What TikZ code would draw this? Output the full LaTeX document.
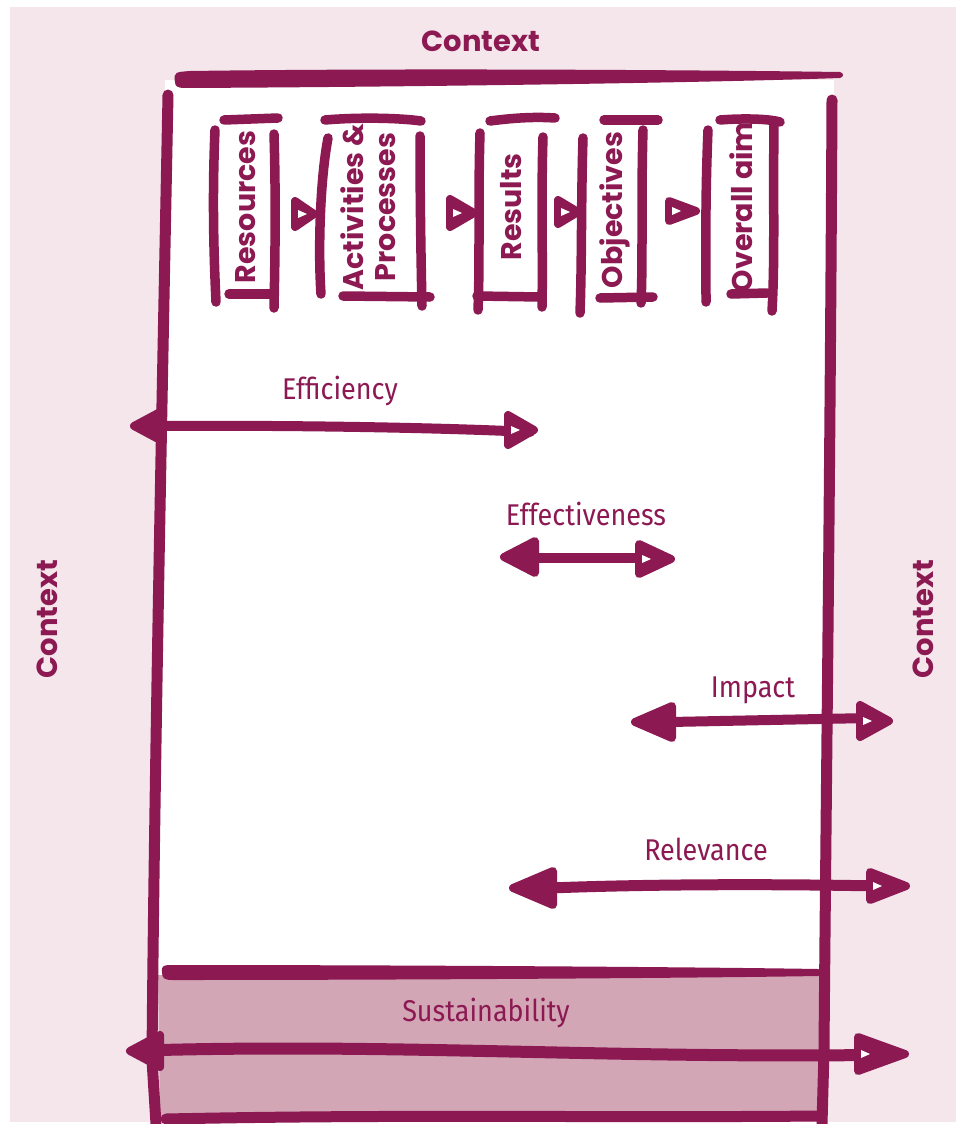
\documentclass[tikz,border=0pt]{standalone}
\usepackage{fontspec}
\newfontfamily\ctxfont{Poppins}
\newfontfamily\lblfont{Fira Sans}[FakeStretch=0.9]
\definecolor{plum}{HTML}{8C1952}
\definecolor{bgpink}{HTML}{F4E6EB}
\definecolor{sustfill}{HTML}{D3A6B6}
\newcommand{\headR}[4]{% base x, y, tip x, half height
  \filldraw[draw=plum,fill=plum,line width=8pt,line join=round] (#1,#2-#4) -- (#3,#2) -- (#1,#2+#4) -- cycle;
  \fill[white] (#1+3,#2-4) -- (#1+12,#2) -- (#1+3,#2+4) -- cycle;}
\newcommand{\headL}[4]{% base x, y, tip x, half height
  \filldraw[draw=plum,fill=plum,line width=8pt,line join=round] (#1,#2-#4) -- (#3,#2) -- (#1,#2+#4) -- cycle;}
\begin{document}
\begin{tikzpicture}[x=1pt,y=-1pt,
  frame/.style={draw=plum,line width=11pt,line cap=round,line join=round},
  bstroke/.style={draw=plum,line width=9.5pt,line cap=round},
  ctx/.style={text=plum,font=\ctxfont\bfseries\fontsize{29}{30}\selectfont,inner sep=0pt},
  boxlbl/.style={text=plum,font=\ctxfont\bfseries\fontsize{28.5}{32}\selectfont,rotate=90,align=center,inner sep=0pt},
  lbl/.style={text=plum,font=\lblfont\fontsize{30}{32}\selectfont,inner sep=0pt},
  conn/.style={draw=plum,line width=10pt,line cap=round},
]
\useasboundingbox (0,0) rectangle (956,1124);
% backgrounds
\fill[bgpink] (10,7) rectangle (956,1122);
\fill[white] (165,80) -- (834,80) -- (828,975) -- (158,975) -- cycle;
\fill[sustfill] (158,975) -- (826,975) -- (823,1120) -- (160,1120) -- cycle;

% frame
\fill[plum] (175,82) .. controls (173,72) and (176,72) .. (190,71)
  .. controls (400,68) and (700,70) .. (840,72)
  .. controls (844,73) and (844,77) .. (840,78)
  .. controls (700,83) and (400,87) .. (185,88)
  .. controls (177,88) and (175,86) .. (175,82) -- cycle;
\draw[frame] (168,95) .. controls (162,400) and (154,800) .. (152,1060) -- (156,1124);
\draw[frame] (832,100) .. controls (830,500) and (826,800) .. (824,1050) -- (822,1124);
\fill[plum] (162,972) .. controls (161,965) and (165,965) .. (172,965)
  .. controls (400,965) and (700,967) .. (818,969)
  .. controls (823,970) and (823,975) .. (818,976)
  .. controls (700,978) and (400,980) .. (172,980)
  .. controls (164,980) and (162,978) .. (162,972) -- cycle;
\draw[frame] (166,1119) .. controls (400,1114) and (600,1118) .. (820,1116);

% context labels
\node[ctx] (ctxtop) at (481,41) {Context};
\node[ctx,rotate=90] (ctxleft) at (47,619) {Context};
\node[ctx,rotate=90] (ctxright) at (923,619) {Context};

% boxes
\node[boxlbl] (res) at (246,207) {Resources};
\draw[bstroke] (215,130) .. controls (212,200) and (214,260) .. (216,302);
\draw[bstroke] (274,134) .. controls (276,200) and (275,260) .. (274,308);
\draw[bstroke] (224,120) -- (278,118);
\draw[bstroke] (229,294) -- (270,294);

\node[boxlbl] (act) at (368,207) {Activities \&\\Processes};
\draw[bstroke] (328,138) .. controls (320,180) and (318,250) .. (321,294);
\draw[bstroke] (420,136) .. controls (420,200) and (421,260) .. (422,306);
\draw[bstroke] (325,120) .. controls (360,117) and (400,118) .. (421,121);
\draw[bstroke] (343,296) -- (430,297);

\node[boxlbl] (rsl) at (511,207) {Results};
\draw[bstroke] (480,133) .. controls (478,200) and (480,260) .. (478,310);
\draw[bstroke] (543,137) .. controls (541,200) and (543,260) .. (542,307);
\draw[bstroke] (490,121) .. controls (520,117) and (540,117) .. (555,118);
\draw[bstroke] (477,296) -- (540,297);

\node[boxlbl] (obj) at (615,210) {Objectives};
\draw[bstroke] (583,138) .. controls (581,200) and (582,260) .. (580,313);
\draw[bstroke] (643,130) .. controls (641,200) and (643,260) .. (641,303);
\draw[bstroke] (604,120) -- (658,120);
\draw[bstroke] (600,298) -- (653,297);

\node[boxlbl] (aim) at (741,207) {Overall aim};
\draw[bstroke] (708,130) .. controls (705,200) and (706,260) .. (706,302);
\draw[bstroke] (774,124) .. controls (773,200) and (775,260) .. (772,311);
\draw[bstroke] (720,120) .. controls (745,118) and (770,119) .. (780,122);
\draw[bstroke] (731,294) -- (767,293);

% flow heads between boxes
\headR{295}{214}{314}{13}
\headR{450}{213}{474}{14}
\headR{558}{212}{578}{12}
\headR{669}{211}{696}{10}

% evaluation criteria
\node[lbl] (eff) at (340,391) {Efficiency};
\coordinate (effA) at (160,426);
\coordinate (effB) at (530,432);
\draw[conn] (effA) .. controls (300,425) and (450,428) .. (effB);
\headL{162}{426}{134}{15}
\headR{508}{430}{534}{15}

\node[lbl] (effc) at (586,514) {Effectiveness};
\coordinate (efcA) at (535,558);
\coordinate (efcB) at (645,558);
\draw[conn] (efcA) -- (efcB);
\headL{535}{557}{504}{16}
\headR{639}{559}{671}{15}

\node[lbl] (imp) at (753,690) {Impact};
\coordinate (impA) at (670,722);
\coordinate (impB) at (870,718);
\draw[conn] (impA) -- (impB);
\headL{672}{722}{635}{16}
\headR{860}{721}{889}{16}

\node[lbl] (rel) at (706,849) {Relevance};
\coordinate (relA) at (550,888);
\coordinate (relB) at (880,886);
\draw[conn,line width=11pt] (relA) .. controls (650,884) and (780,884) .. (relB);
\headL{553}{888}{513}{17}
\headR{870}{886}{906}{14}

\node[lbl] (sus) at (486,1013) {Sustainability};
\coordinate (susA) at (160,1050);
\coordinate (susB) at (870,1055);
\draw[conn,line width=12pt] (susA) .. controls (400,1044) and (600,1058) .. (susB);
\headL{160}{1051}{130}{16}
\headR{858}{1054}{905}{17}
\end{tikzpicture}
\end{document}
